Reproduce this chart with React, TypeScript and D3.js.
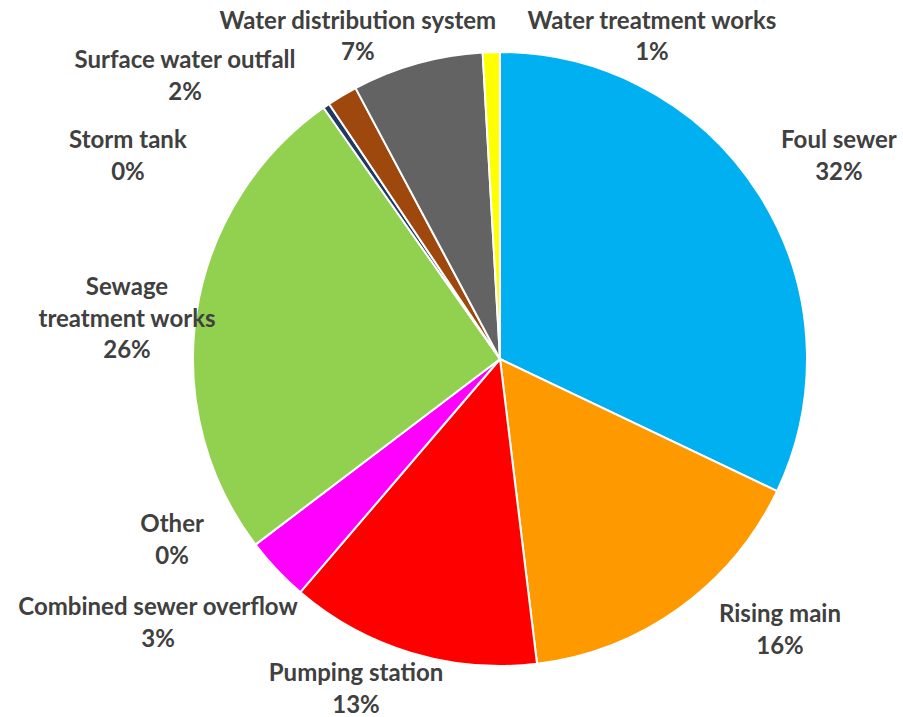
import React from "react";
import * as d3 from "d3";

// Share of incidents by asset type (percent), clockwise from 12 o'clock
const categories = [
  "Foul sewer",
  "Rising main",
  "Pumping station",
  "Other",
  "Combined sewer overflow",
  "Sewage treatment works",
  "Storm tank",
  "Surface water outfall",
  "Water distribution system",
  "Water treatment works",
];
const values = [32.1, 16.0, 13.2, 0.0, 3.4, 25.6, 0.35, 1.6, 6.9, 0.9];
const colors = [
  "#00B0F0",
  "#FF9900",
  "#FF0000",
  "#7F7F7F",
  "#FF00FF",
  "#92D050",
  "#1F3864",
  "#9E480E",
  "#636363",
  "#FFFF00",
];
// Category text split into display lines
const labelLines = [
  ["Foul sewer"],
  ["Rising main"],
  ["Pumping station"],
  ["Other"],
  ["Combined sewer overflow"],
  ["Sewage", "treatment works"],
  ["Storm tank"],
  ["Surface water outfall"],
  ["Water distribution system"],
  ["Water treatment works"],
];
// Label block centres, as offsets from the pie centre in units of radius
const labelOffsets: [number, number][] = [
  [1.104, -0.663],
  [0.912, 0.881],
  [-0.469, 1.074],
  [-1.068, 0.588],
  [-1.114, 0.858],
  [-1.215, -0.132],
  [-1.212, -0.663],
  [-1.026, -0.923],
  [-0.463, -1.052],
  [0.495, -1.052],
];

const W = 903;
const H = 717;
const cx = 500;
const cy = 359;
const r = 307;
const lineH = 31.5;

export default function App() {
  const total = d3.sum(values);
  const pie = d3
    .pie<number>()
    .sort(null)
    .value((d) => d)
    .startAngle(0)
    .endAngle(2 * Math.PI);
  const arcs = pie(values);
  const arc = d3.arc<d3.PieArcDatum<number>>().innerRadius(0).outerRadius(r);

  return (
    <svg
      width={W}
      height={H}
      style={{ display: "block", position: "absolute", left: 0, top: 0, background: "#FFFFFF" }}
    >
      <g transform={`translate(${cx},${cy})`}>
        {arcs.map((a, i) =>
          a.endAngle - a.startAngle > 0 ? (
            <path
              key={categories[i]}
              d={arc(a) || ""}
              fill={colors[i]}
              stroke="#FFFFFF"
              strokeWidth={2}
              strokeLinejoin="round"
            />
          ) : null
        )}
        {arcs.map((a, i) => {
          const lines = [...labelLines[i], `${Math.round((values[i] / total) * 100)}%`];
          const [ox, oy] = labelOffsets[i];
          const x = ox * r;
          const yMid = oy * r;
          const y0 = yMid - ((lines.length - 1) * lineH) / 2;
          return (
            <text
              key={"l" + categories[i]}
              x={x}
              textAnchor="middle"
              fontFamily="Lato, 'Open Sans', sans-serif"
              fontWeight={700}
              fontSize={24}
              fill="#404040"
            >
              {lines.map((t, j) => (
                <tspan key={j} x={x} y={y0 + j * lineH} dy="0.35em">
                  {t}
                </tspan>
              ))}
            </text>
          );
        })}
      </g>
    </svg>
  );
}
